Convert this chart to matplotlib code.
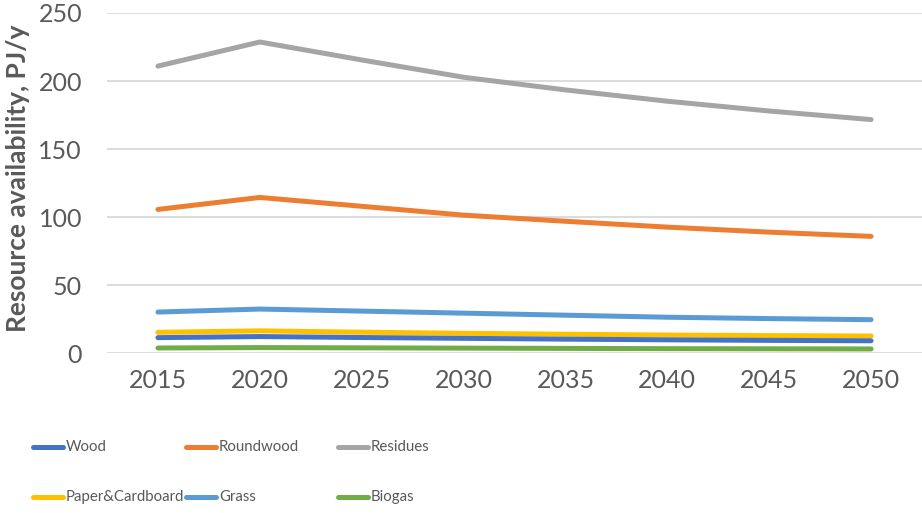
import matplotlib
matplotlib.use("Agg")
import matplotlib.pyplot as plt
from matplotlib.lines import Line2D

# resource availability by type, PJ/y
years = ["2015", "2020", "2025", "2030", "2035", "2040", "2045", "2050"]
wood = [11.5, 12.3, 11.6, 11.0, 10.4, 9.9, 9.5, 9.2]
roundwood = [105.7, 114.5, 108.0, 101.5, 97.0, 92.7, 89.0, 85.9]
residues = [211.0, 228.7, 215.5, 202.8, 193.5, 185.2, 178.0, 171.7]
paper = [15.4, 16.5, 15.5, 14.7, 14.0, 13.4, 13.0, 12.7]
grass = [30.3, 32.5, 31.0, 29.5, 28.0, 26.5, 25.5, 24.7]
biogas = [3.9, 4.2, 4.0, 3.8, 3.6, 3.4, 3.3, 3.2]

names = ["Wood", "Roundwood", "Residues", "Paper&Cardboard", "Grass", "Biogas"]
colors = ["#4472C4", "#ED7D31", "#A5A5A5", "#FFC000", "#5B9BD5", "#70AD47"]
series = [wood, roundwood, residues, paper, grass, biogas]

plt.rcParams["font.family"] = ["Lato", "DejaVu Sans"]

W, H = 922, 513
fig = plt.figure(figsize=(W / 100, H / 100), dpi=100)
ax = fig.add_axes([107 / W, 1 - 353.3 / H, (W - 107) / W, (353.3 - 13) / H])

x = list(range(len(years)))
# draw in reverse so Wood ends up on top
for vals, c in zip(series[::-1], colors[::-1]):
    ax.plot(x, vals, color=c, lw=3.6, solid_capstyle="round", zorder=3)

ax.set_xlim(-0.5, len(years) - 0.5)
ax.set_ylim(0, 250)
ax.set_yticks(range(0, 251, 50))
ax.set_xticks(x)
ax.set_xticklabels(years)
ax.grid(axis="y", color="#D9D9D9", lw=1.3)
ax.set_axisbelow(True)
for s in ax.spines.values():
    s.set_visible(False)
ax.tick_params(length=0, labelsize=18, colors="#595959")
ax.tick_params(axis="x", pad=11)
ax.tick_params(axis="y", pad=18)

fig.text(18 / W, 1 - 178 / H, "Resource availability, PJ/y", rotation=90,
         ha="center", va="center", fontsize=19, fontweight="bold",
         color="#595959")

# legend laid out as a fixed 3-column grid
col_x = [33, 186, 338]
row_y = [447, 497]
for i, (name, c) in enumerate(zip(names, colors)):
    cx = col_x[i % 3]
    cy = row_y[i // 3]
    fig.add_artist(Line2D([cx / W, (cx + 30) / W], [1 - cy / H, 1 - cy / H],
                          color=c, lw=3.6, solid_capstyle="round"))
    fig.text((cx + 33) / W, 1 - cy / H, name, ha="left", va="center",
             fontsize=10.8, color="#595959")

fig.savefig("out.png", dpi=100)
